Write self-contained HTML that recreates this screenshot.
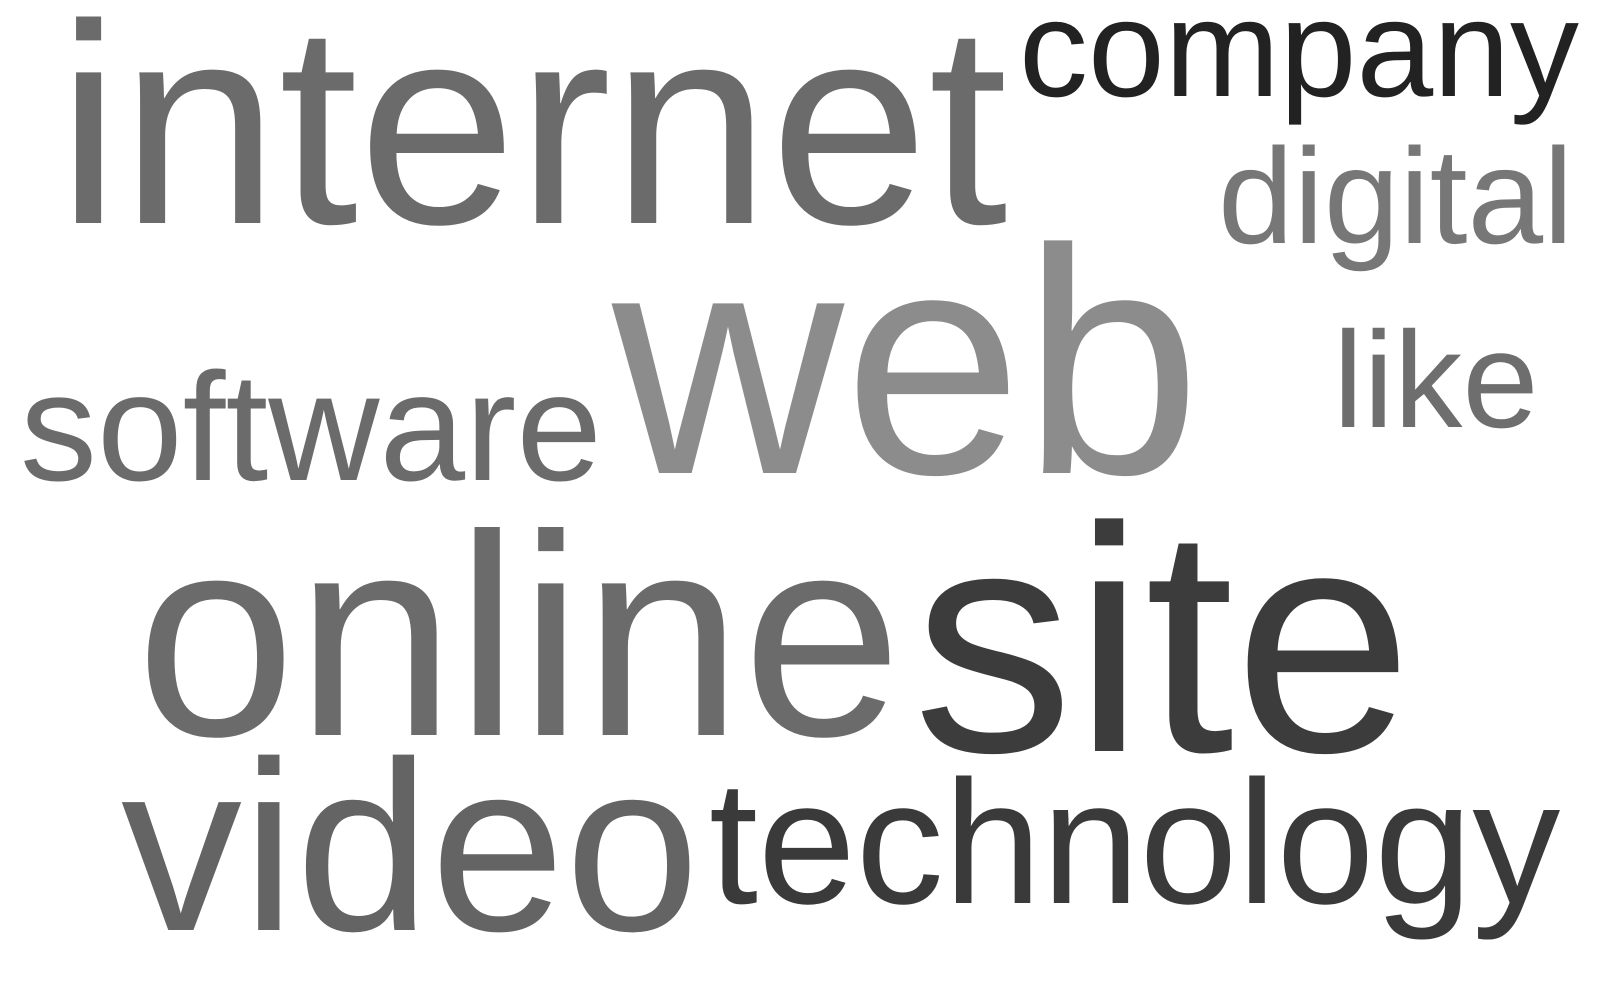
<!DOCTYPE html>
<html>
<head>
<meta charset="utf-8">
<style>
html,body{margin:0;padding:0;background:#fff;width:1600px;height:1000px;overflow:hidden;}
svg{display:block;}
text{font-family:"Liberation Sans",Arial,sans-serif;}
</style>
</head>
<body>
<svg width="1600" height="1000" viewBox="0 0 1600 1000">
<g id="words"></g>
</svg>
<script>
const words = ["internet","company","digital","web","like","software","online","site","video","technology"];
const sizes = [285,138,136,321,137,154,287,321,242,176];
const colors = ["#6b6b6b","#222222","#777777","#8c8c8c","#6e6e6e","#6b6b6b","#6b6b6b","#3c3c3c","#646464","#3a3a3a"];
const xs = [57,1019,1218,612,1333,20,136,913,121,709];
const ys = [223,96,243,473,427,480,735,751,930,903];
const g = document.getElementById('words');
for (let i = 0; i < words.length; i++) {
  const t = document.createElementNS('http://www.w3.org/2000/svg','text');
  t.setAttribute('x', xs[i]);
  t.setAttribute('y', ys[i]);
  t.setAttribute('font-size', sizes[i]);
  t.setAttribute('fill', colors[i]);
  t.textContent = words[i];
  
  
  g.appendChild(t);
}
</script>
</body>
</html>
